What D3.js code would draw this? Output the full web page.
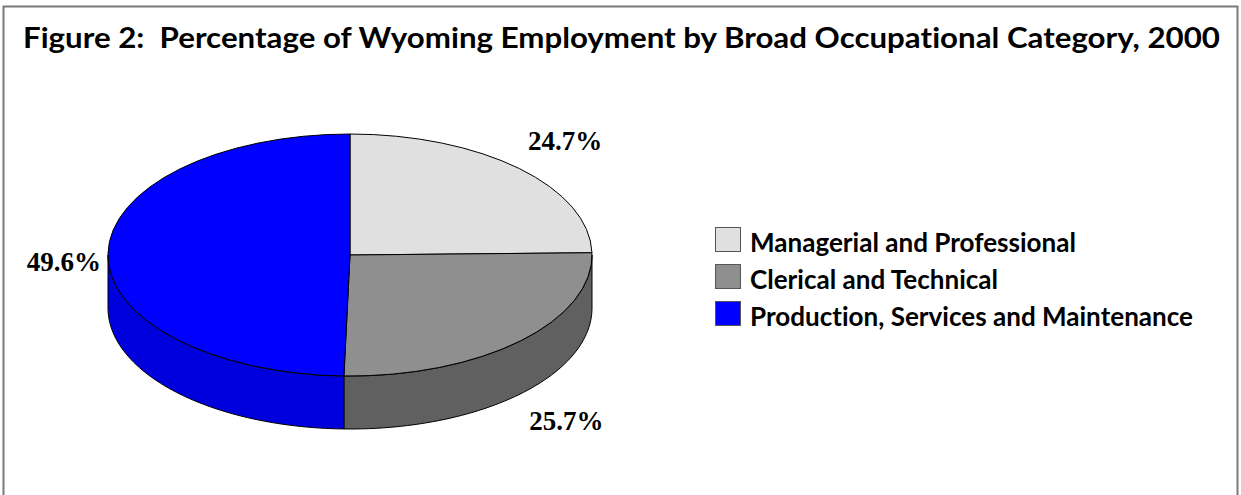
<!DOCTYPE html>
<meta charset="utf-8">
<style>
body { margin: 0; background: #fff; }
text { font-variant-ligatures: none; }
.title { font-family: Lato, "Open Sans", sans-serif; font-weight: bold; }
.legend text { font-family: Lato, "Open Sans", sans-serif; font-weight: bold; }
.pct { font-family: "Liberation Serif", "Times New Roman", serif; font-weight: bold; font-size: 27px; }
.top path, .side path { stroke: #000; stroke-width: 1px; vector-effect: non-scaling-stroke; }
</style>
<svg width="1241" height="495"></svg>
<script src="https://d3js.org/d3.v7.min.js"></script>
<script>

var title = "Figure 2:  Percentage of Wyoming Employment by Broad Occupational Category, 2000";
var categories = ["Managerial and Professional", "Clerical and Technical", "Production, Services and Maintenance"];
var values = [24.7, 25.7, 49.6];
var topColors = ["#e0e0e0", "#8f8f8f", "#0000ff"];
var sideColors = ["#b4b4b4", "#606060", "#0000dd"];

var svg = d3.select("svg"),
    width = +svg.attr("width"),
    height = +svg.attr("height");

svg.append("rect")
    .attr("x", 3.5).attr("y", 6.5)
    .attr("width", 1234).attr("height", 520)
    .attr("fill", "#fff")
    .attr("stroke", "#7a7a7a")
    .attr("stroke-width", 2);

// title: condensed a bit so it spans the frame like the original
svg.append("text")
    .attr("class", "title")
    .attr("x", 23).attr("y", 48)
    .attr("font-size", 28)
    .attr("xml:space", "preserve")
    .attr("textLength", 1197)
    .attr("lengthAdjust", "spacingAndGlyphs")
    .text(title);

// pie geometry
var cx = 350, cy = 255, rx = 242, ry = 121, depth = 53;

var pie = d3.pie().sort(null).value(function(d) { return d; });
var arcs = pie(values);

function px(a, r) { return cx + (r || rx) * Math.sin(a); }
function py(a, r) { return cy - (r || ry) * Math.cos(a); }

// sides (only the front half, angles PI/2 .. 3PI/2, is visible)
var side = svg.append("g").attr("class", "side");
arcs.forEach(function(d, i) {
  var a0 = Math.max(d.startAngle, Math.PI / 2),
      a1 = Math.min(d.endAngle, 3 * Math.PI / 2);
  if (a1 <= a0) return;
  var angs = d3.range(0, 61).map(function(k) { return a0 + (a1 - a0) * k / 60; });
  var pts = angs.map(function(a) { return [px(a), py(a)]; })
      .concat(angs.slice().reverse().map(function(a) { return [px(a), py(a) + depth]; }));
  side.append("path")
      .attr("d", d3.line()(pts) + "Z")
      .attr("fill", sideColors[i]);
});

// top faces
var arc = d3.arc().innerRadius(0).outerRadius(rx);
svg.append("g")
    .attr("class", "top")
    .attr("transform", "translate(" + cx + "," + cy + ") scale(1," + (ry / rx) + ")")
  .selectAll("path")
  .data(arcs)
  .enter().append("path")
    .attr("d", arc)
    .attr("fill", function(d, i) { return topColors[i]; });

// percentage labels
svg.append("g").selectAll("text")
  .data(arcs)
  .enter().append("text")
    .attr("class", "pct")
    .each(function(d) {
      var m = (d.startAngle + d.endAngle) / 2,
          s = Math.sin(m), c = Math.cos(m),
          el = d3.select(this);
      if (Math.abs(s) > 0.95) {
        el.attr("x", px(m, rx + 7)).attr("y", cy + 16)
          .attr("text-anchor", s < 0 ? "end" : "start");
      } else {
        el.attr("x", px(m, 307)).attr("y", py(m, 160) + (c < 0 ? depth : 0) + 9)
          .attr("text-anchor", "middle");
      }
    })
    .text(function(d) { return d.value.toFixed(1) + "%"; });

// legend
var legend = svg.append("g").attr("class", "legend")
    .attr("transform", "translate(715,227)");
var item = legend.selectAll("g")
  .data(categories)
  .enter().append("g")
    .attr("transform", function(d, i) { return "translate(0," + (i * 37) + ")"; });
item.append("rect")
    .attr("x", 0.5).attr("y", 0.5)
    .attr("width", 25).attr("height", 24)
    .attr("fill", function(d, i) { return topColors[i]; })
    .attr("stroke", "#555");
var labels = item.append("text")
    .attr("x", 35).attr("y", 25)
    .attr("font-size", 26)
    .text(function(d) { return d; });
// squeeze all items by the same factor so the longest ends where it does in the original
var lw = d3.max(labels.nodes(), function(n) { return n.getComputedTextLength(); });
labels.each(function() {
  var w = this.getComputedTextLength();
  d3.select(this).attr("textLength", w * 443 / lw).attr("lengthAdjust", "spacingAndGlyphs");
});

</script>
